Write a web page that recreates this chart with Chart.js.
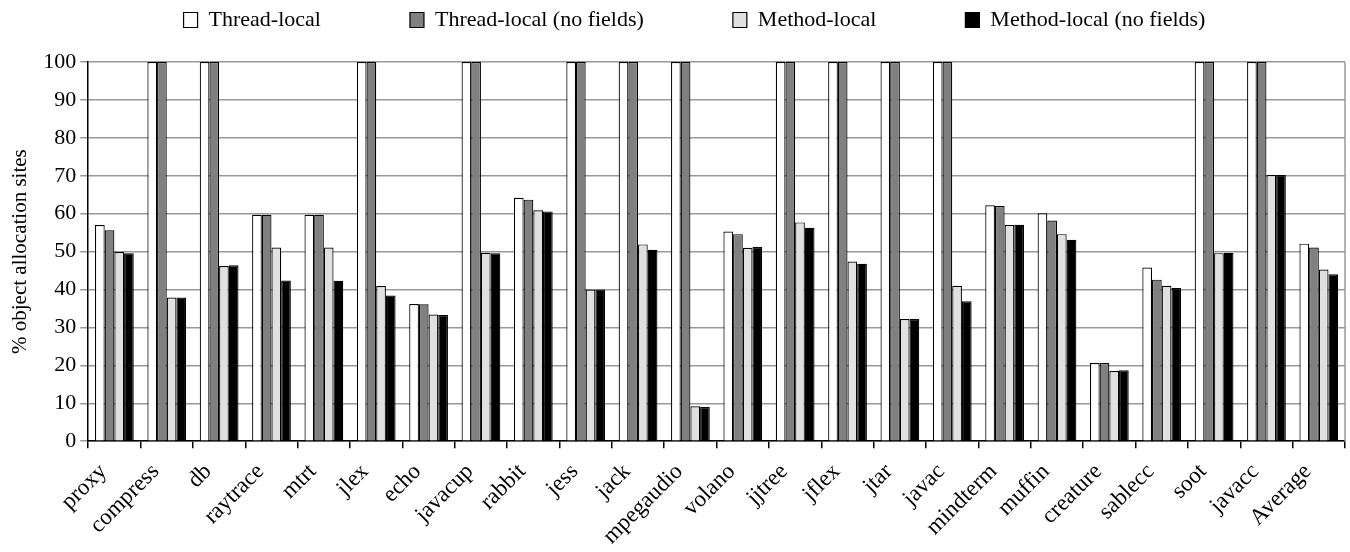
<!DOCTYPE html>
<html><head><meta charset="utf-8">
<script src="https://cdn.jsdelivr.net/npm/chart.js@4/dist/chart.umd.min.js"></script>
<style>html,body{margin:0;padding:0;background:#fff}#wrap{width:1350px;height:552px;position:relative}</style>
</head><body><div id="wrap"><canvas id="c"></canvas></div>
<script>
const categories = ["proxy","compress","db","raytrace","mtrt","jlex","echo","javacup","rabbit","jess","jack","mpegaudio","volano","jjtree","jflex","jtar","javac","mindterm","muffin","creature","sablecc","soot","javacc","Average"];
const seriesNames = ["Thread-local","Thread-local (no fields)","Method-local","Method-local (no fields)"];
const threadLocal = [57,100,100,59.7,59.7,100,36.2,100,64.2,100,100,100,55.3,100,100,100,100,62.2,60.1,20.6,45.8,100,100,52.1];
const threadLocalNoFields = [55.6,100,100,59.7,59.7,100,36.1,100,63.7,100,100,100,54.6,100,100,100,100,62.0,58.2,20.6,42.6,100,100,51.1];
const methodLocal = [49.9,37.9,46.2,51.1,51.1,40.9,33.4,49.7,60.9,40.0,51.9,9.2,51.0,57.7,47.4,32.2,41.0,57.0,54.6,18.5,41.0,49.6,70.2,45.3];
const methodLocalNoFields = [49.6,37.9,46.4,42.4,42.3,38.4,33.3,49.6,60.6,40.0,50.5,9.0,51.2,56.3,46.8,32.2,36.9,57.1,53.1,18.7,40.4,49.7,70.2,44.0];
const yTicks = [0,10,20,30,40,50,60,70,80,90,100];

Chart.defaults.font.family = "'Liberation Serif','Times New Roman',serif";
Chart.defaults.font.size = 22;
Chart.defaults.color = '#000';

const fills = ['#ffffff','#808080','#e0e0e0','#000000'];
const allSeries = [threadLocal, threadLocalNoFields, methodLocal, methodLocalNoFields];

const LEGEND_PAD = 89;

const rightBorder = {
  id: 'rightBorder',
  afterDraw(chart) {
    const a = chart.chartArea, ctx = chart.ctx;
    ctx.save();
    ctx.strokeStyle = '#999';
    ctx.lineWidth = 1.5;
    ctx.beginPath();
    ctx.moveTo(a.right, a.top);
    ctx.lineTo(a.right, a.bottom);
    ctx.stroke();
    ctx.restore();
  }
};
const legendTweak = {
  id: 'legendTweak',
  beforeLayout(chart) {
    const l = chart.legend;
    if (l && !l._patched) {
      const orig = l.fit.bind(l);
      l.fit = function() { orig(); this.height = 58; };
      l._patched = true;
    }
  },
  afterLayout(chart) {
    const l = chart.legend;
    if (l) {
      l.left += 18; l.right += 18;
      l.top = 9 - LEGEND_PAD; l.bottom = 58;
    }
  }
};

new Chart(document.getElementById('c'), {
  type: 'bar',
  data: {
    labels: categories,
    datasets: allSeries.map((d, i) => ({
      label: seriesNames[i],
      data: d,
      backgroundColor: fills[i],
      borderColor: '#000',
      borderWidth: 1.2,
      borderSkipped: 'bottom',
      categoryPercentage: 0.74,
      barPercentage: 1.0
    }))
  },
  options: {
    responsive: true,
    maintainAspectRatio: false,
    animation: false,
    layout: { padding: { left: 8, right: 5, top: 4, bottom: -8 } },
    plugins: {
      legend: {
        position: 'top',
        labels: { boxWidth: 14, boxHeight: 15, padding: LEGEND_PAD, color: '#000', font: { size: 22 } }
      },
      tooltip: { enabled: false }
    },
    scales: {
      x: {
        offset: true,
        grid: { display: true, drawOnChartArea: false, drawTicks: true, tickLength: 7, color: '#000', lineWidth: 1.5, offset: true },
        border: { color: '#000', width: 1.5 },
        ticks: { maxRotation: 45, minRotation: 45, autoSkip: false, padding: 10, labelOffset: -11, font: { size: 23 } }
      },
      y: {
        min: 0, max: 100,
        afterBuildTicks(axis) { axis.ticks = yTicks.map(v => ({ value: v })); },
        grid: { color: '#999', lineWidth: 1.5, tickLength: 8 },
        border: { color: '#000', width: 1.5 },
        ticks: { padding: 4, font: { size: 22 } },
        title: { display: true, text: '% object allocation sites', font: { size: 21 }, padding: { top: 0, bottom: 6 } }
      }
    }
  },
  plugins: [rightBorder, legendTweak]
});
</script>
</body></html>
